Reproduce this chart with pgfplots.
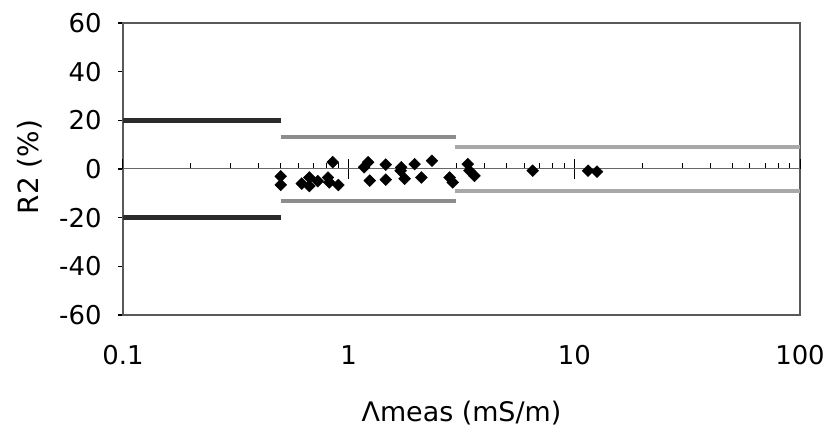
\documentclass[border=0pt]{standalone}
\usepackage{fontspec}
\setmainfont{DejaVu Sans}
\usepackage{pgfplots}
\pgfplotsset{compat=1.18}
\definecolor{dk}{HTML}{2B2B2B}
\definecolor{md}{HTML}{8C8C8C}
\definecolor{lt}{HTML}{A8A8A8}
\begin{document}
\begin{tikzpicture}
\begin{semilogxaxis}[
  name=main, at={(0,0)}, anchor=south west,
  scale only axis, width=677bp, height=292bp,
  xmin=0.1, xmax=100, ymin=-60, ymax=60,
  axis line style={draw=black!65, line width=1.2bp},
  xtick={0.1,1,10,100}, xticklabels={0.1,1,10,100},
  xtick style={draw=none},
  ytick={-60,-40,...,60}, ytick pos=left, ytick align=outside,
  ytick style={black, line width=1.2bp}, major tick length=5bp,
  /pgf/number format/assume math mode=true,
  ticklabel style={font=\fontsize{26}{30}\selectfont},
  xticklabel style={yshift=-27bp},
  yticklabel style={xshift=-13bp},
  xlabel={Λmeas (mS/m)},
  xlabel style={font=\fontsize{27}{32}\selectfont, at={(axis description cs:0.5,-0.335)}, anchor=center},
  ylabel={R2 (\%)},
  ylabel style={font=\fontsize{28}{32}\selectfont, at={(axis description cs:-0.137,0.507)}, anchor=center},
]
\end{semilogxaxis}
\begin{semilogxaxis}[
  at={(0,0)}, anchor=south west,
  scale only axis, width=677bp, height=292bp,
  xmin=0.1, xmax=100, ymin=-60, ymax=60,
  axis x line=middle, axis y line=none,
  x axis line style={-, draw=black!60, line width=1bp},
  xtick={0.1,1,10,100}, xticklabels={}, ytick=\empty,
  tick align=inside, major tick length=10bp, minor tick length=6bp,
  tick style={black, line width=1bp},
  extra x ticks={1,10}, extra x tick labels={},
  extra x tick style={tick align=outside},
]
\addplot[dk, line width=5bp] coordinates {(0.1,20) (0.5,20)};
\addplot[dk, line width=5bp] coordinates {(0.1,-20) (0.5,-20)};
\addplot[md, line width=4bp] coordinates {(0.5,13) (3,13)};
\addplot[md, line width=4bp] coordinates {(0.5,-13) (3,-13)};
\addplot[lt, line width=3.5bp] coordinates {(2.95,9) (100,9)};
\addplot[lt, line width=3.5bp] coordinates {(2.95,-9) (100,-9)};
\addplot[only marks, mark=square*, mark size=4.2bp, mark options={rotate=45, fill=black, draw=black}] coordinates {
(0.50,-3) (0.50,-6.5) (0.62,-6) (0.67,-3.5) (0.67,-7) (0.73,-5)
(0.81,-3.5) (0.82,-5.5) (0.90,-6.6) (0.85,2.8) (1.22,2.8) (1.17,0.7)
(1.24,-4.8) (1.46,1.8) (1.46,-4.4) (1.71,0.7) (1.70,-0.7) (1.77,-4)
(1.96,2) (2.10,-3.5) (2.34,3.4) (2.80,-3.5) (2.89,-5.5) (3.37,2)
(3.43,-0.7) (3.61,-2.8) (6.54,-0.7) (11.5,-0.7) (12.6,-1.1)
};
\end{semilogxaxis}
\path ([shift={(-123bp,-119bp)}]main.south west) rectangle ([shift={(30bp,23bp)}]main.north east);
\end{tikzpicture}
\end{document}
